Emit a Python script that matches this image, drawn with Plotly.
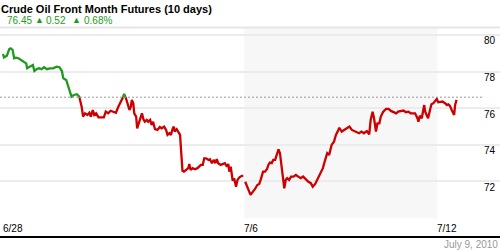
import plotly.graph_objects as go

# ---------------- data ----------------
title_text = "Crude Oil Front Month Futures (10 days)"
last_price = 76.45
change = 0.52
pct_change = 0.68
date_label = "July 9, 2010"
ref_level = 76.60          # dashed reference level

# trading-day index (0 = 6/28) and price; None = session gap
days = [0.00, 0.02, 0.08, 0.13, 0.16, 0.20, 0.23, 0.27, 0.32, 0.37, 0.42, 0.48, 0.50, 0.56, 0.62, 0.65,
        0.70, 0.75, 0.80, 0.85, 0.91, 0.97, 1.04, 1.11, 1.17, 1.22, 1.25, 1.31, 1.35, 1.39, 1.42, 1.47,
        1.53, 1.58, 1.61, 1.63, 1.66, 1.70, 1.75, 1.79, 1.82, 1.86, 1.89, 1.93, 1.98, 2.05, 2.09, 2.13,
        2.18, 2.23, 2.29, 2.34, 2.39, 2.44, 2.48, 2.51, 2.55, 2.58, 2.62, 2.65, 2.67, 2.70, 2.72, 2.76,
        2.78, 2.81, 2.85, 2.88, 2.91, 2.94, 2.98, 3.01, 3.05, 3.08, 3.11, 3.15, 3.20, 3.25, 3.29, 3.34,
        3.38, 3.41, 3.45, 3.48, 3.52, 3.54, 3.56, 3.60, 3.63, 3.67, 3.69, 3.71, 3.72, 3.75, 3.79, 3.84,
        3.86, 3.89, 3.93, 3.98, 4.03, 4.07, 4.10, 4.14, 4.17, 4.21, 4.26, 4.29, 4.33, 4.37, 4.40, 4.43,
        4.46, 4.51, 4.55, 4.60, 4.64, 4.67, 4.69, 4.72, 4.76, 4.79, 4.83, 4.86, 4.90, 4.95, 4.98, 4.99,
        5.02, 5.05, 5.08, 5.13, 5.18, 5.22, 5.27, 5.31, 5.34, 5.39, 5.43, 5.47, 5.50, 5.53, 5.57, 5.60,
        5.64, 5.66, 5.69, 5.71, 5.74, 5.76, 5.80, 5.83, 5.86, 5.89, 5.93, 5.97, 6.02, 6.07, 6.12, 6.17,
        6.22, 6.28, 6.33, 6.38, 6.42, 6.47, 6.51, 6.56, 6.58, 6.63, 6.67, 6.72, 6.76, 6.81, 6.86, 6.90,
        6.95, 6.97, 7.02, 7.07, 7.12, 7.18, 7.23, 7.27, 7.33, 7.38, 7.43, 7.48, 7.54, 7.59, 7.62, 7.66,
        7.69, 7.73, 7.76, 7.80, 7.83, 7.88, 7.94, 7.99, 8.04, 8.09, 8.15, 8.19, 8.24, 8.30, 8.35, 8.40,
        8.45, 8.50, 8.54, 8.59, 8.61, 8.64, 8.68, 8.71, 8.73, 8.75, 8.78, 8.81, 8.85, 8.88, 8.92, 8.95,
        8.99, 9.02, 9.06, 9.11, 9.16, 9.20, 9.23, 9.26, 9.30, 9.33, 9.35, 9.37, 9.40]

price = [78.96, 78.77, 78.87, 79.23, 79.27, 79.18, 78.73, 78.76, 78.73, 78.63, 78.54, 78.45, 78.18, 78.27, 78.36, 78.03,
         78.14, 78.18, 78.13, 78.24, 78.13, 78.18, 78.18, 78.27, 78.24, 78.03, 77.63, 77.54, 77.17, 76.94, 76.63, 76.72,
         76.76, 76.63, 76.36, 76.08, 75.54, 75.72, 75.63, 75.75, 75.54, 75.90, 75.63, 75.72, 75.50, 75.48, 75.50, 75.81,
         75.72, 75.86, 75.81, 75.75, 76.08, 76.36, 76.54, 76.78, 76.54, 76.27, 75.90, 76.08, 76.45, 76.27, 75.72, 75.54,
         74.90, 75.17, 75.54, 75.72, 75.39, 75.26, 75.36, 75.26, 75.36, 75.08, 75.26, 74.85, 74.81, 74.97, 74.90, 74.99,
         74.81, 74.54, 74.63, 74.54, 74.90, 74.99, 74.72, 74.85, 74.72, 74.54, 73.72, 72.80, 72.58, 72.53, 72.62, 72.72,
         72.95, 72.62, 72.72, 72.66, 72.72, 72.80, 72.90, 72.90, 73.26, 73.26, 73.17, 73.21, 72.99, 73.17, 72.99, 73.21,
         72.99, 72.90, 72.95, 72.99, 72.80, 72.95, 72.53, 72.80, 72.04, 72.17, 71.71, 72.08, 72.22, 72.30, 72.30, None,
         71.98, 71.80, 71.53, 71.26, 71.44, 71.57, 71.80, 71.86, 72.08, 72.53, 72.53, 72.66, 72.90, 73.02, 72.99, 73.17,
         73.17, 73.35, 73.62, 73.75, 73.54, 73.17, 72.26, 71.62, 72.08, 72.17, 72.08, 72.26, 72.26, 72.35, 72.26, 72.17,
         72.26, 72.08, 71.98, 71.90, 71.71, 71.86, 72.08, 72.35, 72.44, 72.72, 73.11, 73.54, 73.44, 73.99, 74.17, 74.54,
         74.81, 74.93, 74.72, 74.81, 74.86, 74.99, 74.81, 74.75, 74.68, 74.63, 74.72, 74.63, 74.75, 74.57, 75.36, 75.81,
         75.45, 74.72, 75.17, 75.17, 75.54, 75.81, 75.96, 75.96, 75.85, 75.81, 75.72, 75.81, 75.85, 75.87, 75.78, 75.81,
         75.72, 75.72, 75.72, 75.45, 75.26, 75.59, 75.45, 75.90, 76.17, 75.81, 75.59, 75.45, 75.90, 76.21, 76.27, 76.36,
         76.50, 76.32, 76.32, 76.36, 76.27, 76.17, 76.21, 76.14, 75.90, 75.67, 75.63, 76.17, 76.45]

y_ticks = [70, 72, 74, 76, 78, 80]
y_tick_labels = ["", "72", "74", "76", "78", "80"]
x_tick_days = [0, 5, 9]
x_tick_labels = ["6/28", "7/6", "7/12"]
shade_days = [5, 9]

# ---------------- styling ----------------
W, H = 500, 250
GREEN = "#1e9a1e"
RED = "#cc0000"
FONT = "Liberation Sans, Arial, sans-serif"
px_day = 48.25
x_range = [-3 / px_day, 497 / px_day]
plot_top, plot_bot = 27.5, 218.3
y_dom = [1 - plot_bot / H, 1 - plot_top / H]
y_range = [69.98, 80 + (35 - plot_top) / 18.33]


def split_runs(xs, ys, level):
    runs, cur = [], None
    for i in range(len(xs) - 1):
        x0, y0, x1, y1 = xs[i], ys[i], xs[i + 1], ys[i + 1]
        if y0 is None or y1 is None:
            cur = None
            continue
        if (y0 - level) * (y1 - level) < 0:
            t = (level - y0) / (y1 - y0)
            xm = x0 + t * (x1 - x0)
            pieces = [(x0, y0, xm, level), (xm, level, x1, y1)]
        else:
            pieces = [(x0, y0, x1, y1)]
        for a, b, c, d in pieces:
            col = "g" if (b + d) / 2 > level else "r"
            if cur is not None and cur[0] == col and cur[1][-1] == a:
                cur[1].append(c)
                cur[2].append(d)
            else:
                cur = [col, [a, c], [b, d]]
                runs.append(cur)
    out = {"g": ([], []), "r": ([], [])}
    for col, rx, ry in runs:
        out[col][0].extend(rx + [None])
        out[col][1].extend(ry + [None])
    return out


segs = split_runs(days, price, ref_level)

fig = go.Figure()
fig.add_trace(go.Scatter(x=segs["r"][0], y=segs["r"][1], mode="lines",
                         line=dict(color=RED, width=2.3), hoverinfo="skip", connectgaps=False))
fig.add_trace(go.Scatter(x=segs["g"][0], y=segs["g"][1], mode="lines",
                         line=dict(color=GREEN, width=2.3), hoverinfo="skip", connectgaps=False))

shapes = [
    dict(type="rect", xref="x", yref="paper", x0=shade_days[0], x1=shade_days[1],
         y0=y_dom[0], y1=y_dom[1], fillcolor="#f7f7f7", line=dict(width=0), layer="below"),
    dict(type="line", xref="paper", yref="paper", x0=0, x1=1, y0=y_dom[1], y1=y_dom[1],
         line=dict(color="#e6e6e6", width=2)),
    dict(type="line", xref="paper", yref="y", x0=0, x1=482 / W, y0=ref_level, y1=ref_level,
         line=dict(color="#999999", width=1, dash="2px,2px")),
    dict(type="line", xref="paper", yref="paper", x0=0, x1=1, y0=1 - 237 / H, y1=1 - 237 / H,
         line=dict(color="#000000", width=2)),
]

ann = []
ann.append(dict(text="<b>" + title_text + "</b>", xref="paper", yref="paper", x=0, y=1 - 9 / H,
                xanchor="left", yanchor="middle", showarrow=False, xshift=-1,
                font=dict(family=FONT, size=11, color="#000000")))
# quote line
quote_parts = [(f"{last_price:.2f}", 5), ("\u25B2", 33), (f"{change:.2f}", 44), ("\u25B2", 70), (f"{pct_change:.2f}%", 82)]
for txt, xp in quote_parts:
    sz = 9 if txt == "\u25B2" else 10
    ann.append(dict(text=txt, xref="paper", yref="paper", x=xp / W, y=1 - 20.5 / H,
                    xanchor="left", yanchor="middle", showarrow=False,
                    font=dict(family=FONT, size=sz, color=GREEN)))
for v, lab in zip(y_ticks, y_tick_labels):
    if lab:
        ann.append(dict(text=lab, xref="paper", yref="y", x=482 / W, y=v, xanchor="left",
                        yanchor="middle", yshift=-6, showarrow=False,
                        font=dict(family=FONT, size=10, color="#000000")))
for d, lab in zip(x_tick_days, x_tick_labels):
    ann.append(dict(text=lab, xref="x", yref="paper", x=d, y=1 - 228 / H, xanchor="left",
                    yanchor="middle", xshift=-2, showarrow=False,
                    font=dict(family=FONT, size=10, color="#000000")))
ann.append(dict(text=date_label, xref="paper", yref="paper", x=1, y=1 - 244 / H, xanchor="right",
                yanchor="middle", showarrow=False, xshift=0,
                font=dict(family=FONT, size=10, color="#999999")))

fig.update_layout(
    width=W, height=H, margin=dict(l=0, r=0, t=0, b=0),
    paper_bgcolor="white", plot_bgcolor="rgba(0,0,0,0)",
    showlegend=False, shapes=shapes, annotations=ann,
    xaxis=dict(range=x_range, domain=[0, 1], showgrid=False, zeroline=False,
               showticklabels=False, ticks="", fixedrange=True),
    yaxis=dict(range=y_range, domain=y_dom, tickvals=y_ticks, showgrid=True,
               gridcolor="#ececec", gridwidth=1.5, zeroline=False,
               showticklabels=False, ticks="", fixedrange=True),
)

fig.write_html("out.html")
